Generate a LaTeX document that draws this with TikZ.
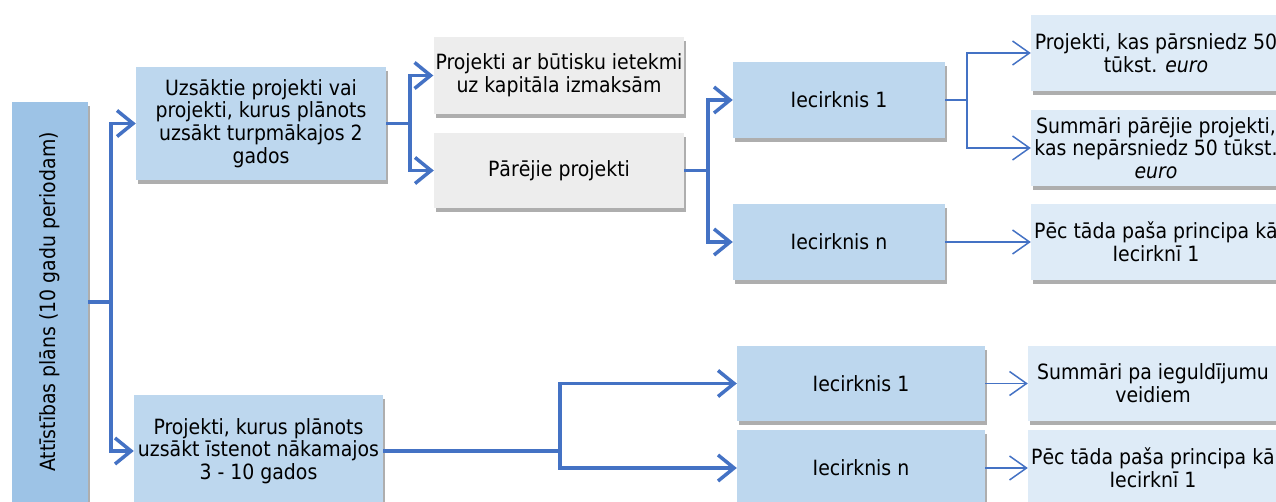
\documentclass[tikz,border=0pt]{standalone}
\usepackage{fontspec}
\setmainfont{DejaVu Sans Condensed}
\usetikzlibrary{arrows.meta,shadows}
\definecolor{linkblue}{HTML}{4472C4}
\definecolor{rootfill}{HTML}{9DC3E6}
\definecolor{midfill}{HTML}{BDD7EE}
\definecolor{greyfill}{HTML}{EDEDED}
\definecolor{leaffill}{HTML}{DEEBF7}
\tikzset{
    box/.style={rectangle, align=center, inner sep=2pt, font=\fontsize{21}{22.7}\selectfont,
        drop shadow={shadow xshift=2pt, shadow yshift=-4pt, fill=black!70, opacity=.45}},
    rootbox/.style={box, fill=rootfill, rotate=90, minimum width=400pt, minimum height=76pt},
    midbox/.style={box, fill=midfill},
    greybox/.style={box, fill=greyfill},
    leafbox/.style={box, fill=leaffill},
    thickline/.style={draw=linkblue, line width=3.5pt},
    thickarrow/.style={thickline, -{Straight Barb[length=16pt,width=26pt]}},
    thinarrow/.style={draw=linkblue, line width=1.5pt, -{Straight Barb[length=17pt,width=24pt]}}
}
\begin{document}
\begin{tikzpicture}[x=1pt, y=-1pt]
    \useasboundingbox (0,0) rectangle (1276,502);
    \clip (0,0) rectangle (1276,502);
    \node[rootbox] (plan) at (50,302) {Attīstības plāns (10 gadu periodam)};
    \node[midbox, minimum width=250pt, minimum height=113pt] (started) at (261,123.5)
        {Uzsāktie projekti vai\\projekti, kurus plānots\\uzsākt turpmākajos 2\\gados};
    \node[midbox, minimum width=249pt, minimum height=113pt] (future) at (258.5,451)
        {Projekti, kurus plānots\\uzsākt īstenot nākamajos\\3 - 10 gados};
    \node[greybox, minimum width=250pt, minimum height=77pt] (capital) at (559,75.5)
        {Projekti ar būtisku ietekmi\\uz kapitāla izmaksām};
    \node[greybox, minimum width=250pt, minimum height=75pt] (other) at (559,170.5)
        {Pārējie projekti};
    \node[midbox, minimum width=212pt, minimum height=76pt] (sectA) at (839,100) {Iecirknis 1};
    \node[midbox, minimum width=212pt, minimum height=76pt] (sectN) at (839,242) {Iecirknis n};
    \node[leafbox, minimum width=250pt, minimum height=76pt] (over) at (1156,53)
        {Projekti, kas pārsniedz 50\\tūkst. \textit{euro}};
    \node[leafbox, minimum width=250pt, minimum height=76pt] (under) at (1156,148)
        {Summāri pārējie projekti,\\kas nepārsniedz 50 tūkst.\\\textit{euro}};
    \node[leafbox, minimum width=250pt, minimum height=76pt] (same) at (1156,242)
        {Pēc tāda paša principa kā\\Iecirknī 1};
    \node[midbox, minimum width=248pt, minimum height=75pt] (futA) at (861,383.5) {Iecirknis 1};
    \node[midbox, minimum width=248pt, minimum height=76pt] (futN) at (861,468) {Iecirknis n};
    \node[leafbox, minimum width=250pt, minimum height=75pt] (bytype) at (1153,383.5)
        {Summāri pa ieguldījumu\\veidiem};
    \node[leafbox, minimum width=250pt, minimum height=76pt] (futsame) at (1153,468)
        {Pēc tāda paša principa kā\\Iecirknī 1};
    \draw[thickline] (plan.south) -- ++(23,0) coordinate (j1);
    \draw[thickarrow] (j1) |- (started.west);
    \draw[thickarrow] (j1) |- (future.west);
    \draw[thickline] (started.east) -- ++(24,0) coordinate (j2);
    \draw[thickarrow] (j2) |- (capital.west);
    \draw[thickarrow] (j2) |- (other.west);
    \draw[thickline] (other.east) -- ++(24,0) coordinate (j3);
    \draw[thickarrow] (j3) |- (sectA.west);
    \draw[thickarrow] (j3) |- (sectN.west);
    \draw[draw=linkblue, line width=1.5pt] (sectA.east) -- ++(22,0) coordinate (j4);
    \draw[thinarrow] (j4) |- (over.west);
    \draw[thinarrow] (j4) |- (under.west);
    \draw[thinarrow] (sectN.east) -- (same.west);
    \draw[thickline] (future.east) -- ++(177,0) coordinate (j5);
    \draw[thickarrow] (j5) |- (futA.west);
    \draw[thickarrow] (j5) |- (futN.west);
    \draw[thinarrow] (futA.east) -- (bytype.west);
    \draw[thinarrow] (futN.east) -- (futsame.west);
\end{tikzpicture}
\end{document}
